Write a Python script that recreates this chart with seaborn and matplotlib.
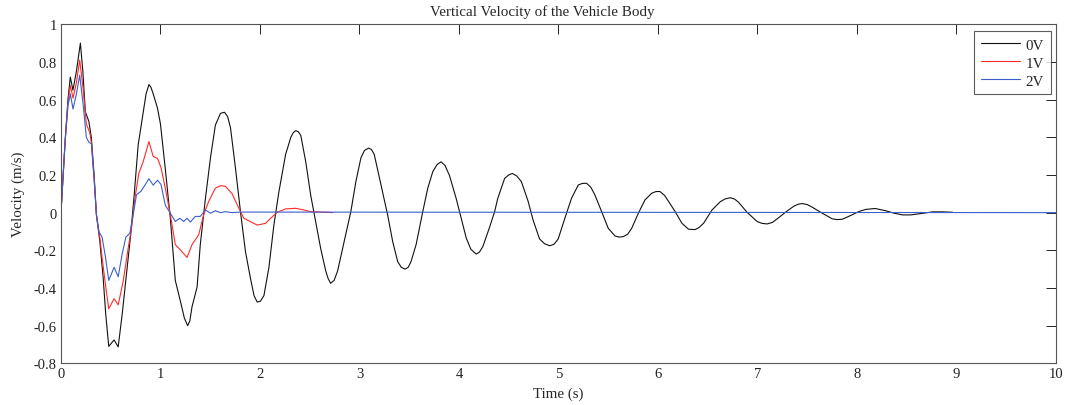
import numpy as np
import pandas as pd
import seaborn as sns
import matplotlib
matplotlib.use("Agg")
import matplotlib.pyplot as plt
from matplotlib.ticker import FuncFormatter, MultipleLocator

# Vertical velocity of the vehicle body (m/s) for three control voltages
black_t = [0, 0.043, 0.07, 0.094, 0.12, 0.155, 0.195, 0.22, 0.245, 0.28, 0.305, 0.333, 0.356,
           0.39, 0.423, 0.45, 0.48, 0.534, 0.575, 0.615, 0.66, 0.70, 0.736, 0.776, 0.827, 0.855,
           0.884, 0.905, 0.927, 0.97, 1.00, 1.048, 1.099, 1.12, 1.149, 1.2, 1.24, 1.273, 1.295,
           1.317, 1.368, 1.40, 1.452, 1.502, 1.552, 1.603, 1.643, 1.675, 1.704, 1.754, 1.804,
           1.855, 1.905, 1.94, 1.972, 2.005, 2.04, 2.09, 2.14, 2.19, 2.258, 2.31, 2.335, 2.359,
           2.385, 2.41, 2.46, 2.51, 2.56, 2.61, 2.661, 2.685, 2.71, 2.745, 2.78, 2.846, 2.913,
           2.964, 3.014, 3.05, 3.092, 3.12, 3.148, 3.216, 3.283, 3.334, 3.384, 3.42, 3.458, 3.49,
           3.518, 3.569, 3.636, 3.686, 3.737, 3.78, 3.82, 3.86, 3.904, 3.972, 4.022, 4.073, 4.12,
           4.173, 4.205, 4.24, 4.308, 4.358, 4.39, 4.459, 4.5, 4.536, 4.58, 4.627, 4.695, 4.745,
           4.81, 4.86, 4.912, 4.955, 4.997, 5.064, 5.131, 5.199, 5.24, 5.282, 5.325, 5.366, 5.434,
           5.5, 5.568, 5.61, 5.652, 5.695, 5.736, 5.803, 5.87, 5.937, 5.98, 6.02, 6.065, 6.106,
           6.173, 6.24, 6.307, 6.374, 6.415, 6.459, 6.543, 6.626, 6.675, 6.727, 6.77, 6.81, 6.895,
           6.996, 7.045, 7.097, 7.15, 7.198, 7.281, 7.365, 7.41, 7.45, 7.5, 7.55, 7.651, 7.752,
           7.8, 7.853, 7.937, 8.02, 8.088, 8.182, 8.289, 8.373, 8.457, 8.54, 8.642, 8.76, 8.861,
           8.96]
black_v = [0, 0.39, 0.60, 0.72, 0.65, 0.75, 0.90, 0.75, 0.535, 0.485, 0.40, 0.20, -0.01,
           -0.15, -0.34, -0.54, -0.71, -0.676, -0.713, -0.54, -0.32, -0.12, 0.095, 0.36, 0.535, 0.63,
           0.68, 0.665, 0.63, 0.555, 0.47, 0.235, -0.03, -0.17, -0.36, -0.47, -0.56, -0.60, -0.575,
           -0.50, -0.395, -0.17, 0.076, 0.29, 0.465, 0.527, 0.533, 0.51, 0.45, 0.235, 0.005,
           -0.21, -0.35, -0.44, -0.475, -0.47, -0.44, -0.29, -0.065, 0.11, 0.31, 0.40, 0.425, 0.435,
           0.43, 0.41, 0.27, 0.092, -0.05, -0.19, -0.31, -0.35, -0.375, -0.36, -0.31, -0.155, 0.005,
           0.165, 0.29, 0.33, 0.343, 0.335, 0.31, 0.147, -0.012, -0.154, -0.26, -0.29, -0.30, -0.29,
           -0.26, -0.17, 0.005, 0.129, 0.218, 0.255, 0.27, 0.25, 0.198, 0.075, -0.03, -0.135, -0.195,
           -0.22, -0.21, -0.18, -0.077, 0.005, 0.076, 0.182, 0.20, 0.208, 0.195, 0.165, 0.06, -0.04,
           -0.14, -0.165, -0.176, -0.168, -0.14, -0.03, 0.076, 0.147, 0.155, 0.156, 0.135, 0.094, 0.005,
           -0.083, -0.124, -0.13, -0.127, -0.115, -0.083, -0.003, 0.068, 0.103, 0.112, 0.112, 0.092, 0.06,
           0.005, -0.056, -0.088, -0.09, -0.078, -0.056, 0.014, 0.058, 0.073, 0.079, 0.072, 0.055, 0.002,
           -0.047, -0.057, -0.06, -0.052, -0.033, 0.002, 0.034, 0.045, 0.048, 0.043, 0.029, -0.003, -0.033,
           -0.037, -0.035, -0.015, 0.006, 0.017, 0.022, 0.01, -0.003, -0.012, -0.012, -0.005, 0.004, 0.004,
           0.002]

red_t = [0, 0.043, 0.071, 0.094, 0.121, 0.155, 0.188, 0.222, 0.255, 0.289, 0.306, 0.333, 0.356,
         0.39, 0.417, 0.45, 0.48, 0.534, 0.575, 0.625, 0.675, 0.709, 0.743, 0.783, 0.827, 0.884,
         0.927, 0.97, 1.005, 1.048, 1.099, 1.149, 1.2, 1.267, 1.317, 1.384, 1.434, 1.485, 1.552,
         1.603, 1.653, 1.72, 1.787, 1.838, 1.905, 1.972, 2.056, 2.107, 2.174, 2.258, 2.359,
         2.443, 2.51, 2.62, 2.73]
red_v = [0, 0.39, 0.59, 0.675, 0.608, 0.69, 0.81, 0.66, 0.47, 0.425, 0.37, 0.18, -0.01,
         -0.13, -0.255, -0.395, -0.51, -0.457, -0.49, -0.365, -0.19, -0.083, 0.076, 0.21, 0.272, 0.377,
         0.298, 0.288, 0.24, 0.13, -0.01, -0.17, -0.198, -0.238, -0.17, -0.118, -0.01, 0.06, 0.13,
         0.143, 0.14, 0.10, 0.024, -0.03, -0.048, -0.066, -0.057, -0.03, 0.002, 0.02, 0.023,
         0.014, 0.005, 0.003, 0.0]

blue_t = [0, 0.043, 0.071, 0.094, 0.121, 0.155, 0.188, 0.222, 0.255, 0.279, 0.306, 0.333, 0.356,
          0.38, 0.413, 0.447, 0.48, 0.534, 0.575, 0.615, 0.652, 0.692, 0.726, 0.759, 0.803, 0.844,
          0.884, 0.927, 0.97, 1.005, 1.048, 1.099, 1.149, 1.193, 1.233, 1.267, 1.30, 1.35, 1.40,
          1.452, 1.502, 1.552, 1.603, 1.653, 1.72, 1.804, 10.0]
blue_v = [0, 0.39, 0.57, 0.63, 0.55, 0.63, 0.73, 0.578, 0.40, 0.375, 0.365, 0.18, -0.01,
          -0.10, -0.13, -0.235, -0.36, -0.29, -0.34, -0.22, -0.13, -0.11, -0.01, 0.095, 0.113, 0.146,
          0.18, 0.146, 0.172, 0.15, 0.04, -0.003, -0.047, -0.03, -0.047, -0.03, -0.05, -0.02, -0.02,
          0.014, -0.003, 0.01, 0.0, 0.005, 0.0, 0.003, 0.0]

labels = ["0V", "1V", "2V"]
colors = {"0V": "#111111", "1V": "#ff2a2a", "2V": "#3a5fcd"}

df = pd.concat([
    pd.DataFrame({"Time (s)": black_t, "Velocity (m/s)": black_v, "Voltage": labels[0]}),
    pd.DataFrame({"Time (s)": red_t, "Velocity (m/s)": red_v, "Voltage": labels[1]}),
    pd.DataFrame({"Time (s)": blue_t, "Velocity (m/s)": blue_v, "Voltage": labels[2]}),
], ignore_index=True)

sns.set_style("white")
plt.rcParams["font.family"] = ["Liberation Serif", "DejaVu Serif"]
plt.rcParams["axes.unicode_minus"] = False

fig = plt.figure(figsize=(10.66, 4.06), dpi=100)
ax = fig.add_axes([0.0572, 0.1027, 0.9334, 0.835])

sns.lineplot(data=df, x="Time (s)", y="Velocity (m/s)", hue="Voltage",
             hue_order=labels, palette=colors, estimator=None, sort=False,
             linewidth=0.8, ax=ax)

ax.set_xlim(0, 10)
ax.set_ylim(-0.8, 1.0)
ax.xaxis.set_major_locator(MultipleLocator(1))
ax.yaxis.set_major_locator(MultipleLocator(0.2))
ax.yaxis.set_major_formatter(FuncFormatter(lambda v, p: "%g" % round(v, 2)))
ax.tick_params(direction="in", top=True, right=True, length=7, width=0.7,
               labelsize=10.5, colors="#222222", pad=3)
for s in ax.spines.values():
    s.set_color("#555555")
    s.set_linewidth(0.8)

ax.set_title("Vertical Velocity of the Vehicle Body", fontsize=10.8, pad=7, x=0.484)
ax.set_xlabel("Time (s)", fontsize=10.8, labelpad=4)
ax.set_ylabel("Velocity (m/s)", fontsize=10.8, labelpad=6)

leg = ax.legend(loc="upper right", bbox_to_anchor=(1 - 5 / 995, 1 - 7 / 339),
                frameon=True, fancybox=False, fontsize=10.8, borderaxespad=0,
                handlelength=2.6, borderpad=0.45, labelspacing=0.3,
                handletextpad=0.4)
leg.get_frame().set_edgecolor("#333333")
leg.get_frame().set_linewidth(0.8)
leg.set_title(None)

fig.savefig("out.png", dpi=100)
